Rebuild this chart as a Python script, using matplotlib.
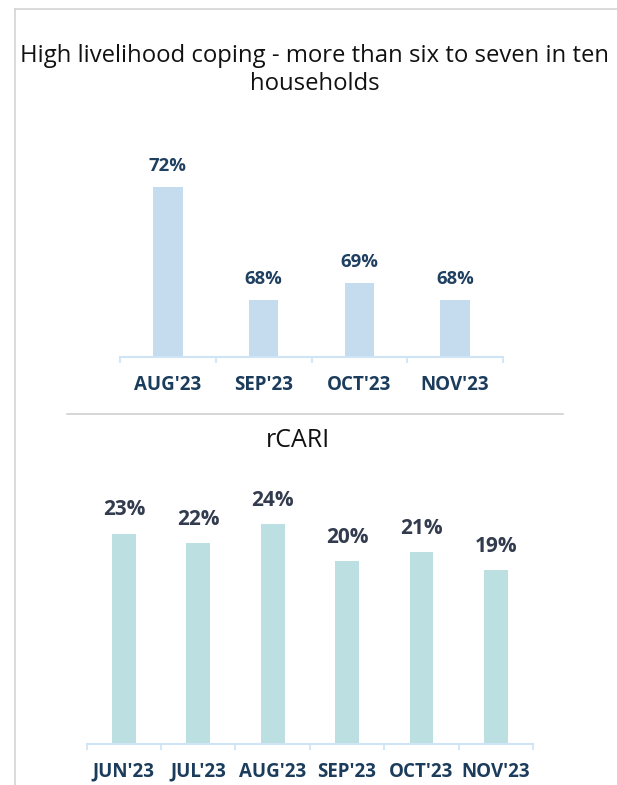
import matplotlib
matplotlib.use("Agg")
import matplotlib.pyplot as plt
from matplotlib.lines import Line2D
import numpy as np

plt.rcParams['font.family'] = ['Open Sans', 'DejaVu Sans']

# data
coping_months = ["AUG'23", "SEP'23", "OCT'23", "NOV'23"]
coping_values = [72.0, 68.0, 68.6, 68.0]   # bar heights (labels rounded)
rcari_months = ["JUN'23", "JUL'23", "AUG'23", "SEP'23", "OCT'23", "NOV'23"]
rcari_values = [23, 22, 24, 20, 21, 19]

W, H = 617, 785
fig = plt.figure(figsize=(W / 100, H / 100), dpi=100)


def px_box(left, top, right, bottom):
    # pixel box (from top-left) -> figure fraction rect
    return [left / W, 1 - bottom / H, (right - left) / W, (bottom - top) / H]


def bar_panel(ax, months, values, ymin, ymax, width, bar_col, lab_col, lab_size, lab_off):
    x = np.arange(len(months))
    ax.bar(x, values, width=width, color=bar_col, bottom=0)
    ax.set_xlim(-0.5, len(months) - 0.5)
    ax.set_ylim(ymin, ymax)
    for s in ['top', 'right', 'left']:
        ax.spines[s].set_visible(False)
    ax.spines['bottom'].set_color('#cfe5f6')
    ax.spines['bottom'].set_linewidth(1.5)
    ax.set_yticks([])
    ax.set_xticks(x)
    ax.set_xticklabels(months, fontsize=13.5, fontweight='bold', color='#1c3c5c')
    ax.tick_params(axis='x', which='major', length=0, pad=13)
    ax.set_xticks(np.arange(len(months) + 1) - 0.5, minor=True)
    ax.tick_params(axis='x', which='minor', length=4.5, width=1.3, color='#cfe5f6')
    for xi, v in zip(x, values):
        ax.annotate(f"{round(v)}%", (xi, v), xytext=(0, lab_off), textcoords='offset points',
                    ha='center', va='baseline', fontsize=lab_size, fontweight='bold', color=lab_col)


# top chart
ax1 = fig.add_axes(px_box(120, 150, 503, 356.5))
bar_panel(ax1, coping_months, coping_values, 66.0, 66.0 + 206.5 / 28.25, 0.31,
          '#c5dbee', '#1f4060', 13.3, 11.5)

# bottom chart
ax2 = fig.add_axes(px_box(86.7, 480, 533, 743.5))
bar_panel(ax2, rcari_months, rcari_values, 0, 263.5 / 9.13, 0.32,
          '#bcdfe1', '#333c4e', 15, 13)

# titles
fig.text(315 / W, 1 - 62 / H, "High livelihood coping - more than six to seven in ten",
         ha='center', va='baseline', fontsize=17.2, color='#111111')
fig.text(315 / W, 1 - 90 / H, "households",
         ha='center', va='baseline', fontsize=17.2, color='#111111')
fig.text(297.5 / W, 1 - 447 / H, "rCARI",
         ha='center', va='baseline', fontsize=18, color='#111111')

# frame lines
fig.add_artist(Line2D([15 / W, 15 / W], [0, 1 - 9 / H], color='#d4d4d4', lw=1.2))
fig.add_artist(Line2D([15 / W, 1], [1 - 9 / H, 1 - 9 / H], color='#d4d4d4', lw=1.2))
fig.add_artist(Line2D([67 / W, 563 / W], [1 - 414 / H, 1 - 414 / H], color='#d0d0d0', lw=1.2))

fig.savefig('out.png', dpi=100)
